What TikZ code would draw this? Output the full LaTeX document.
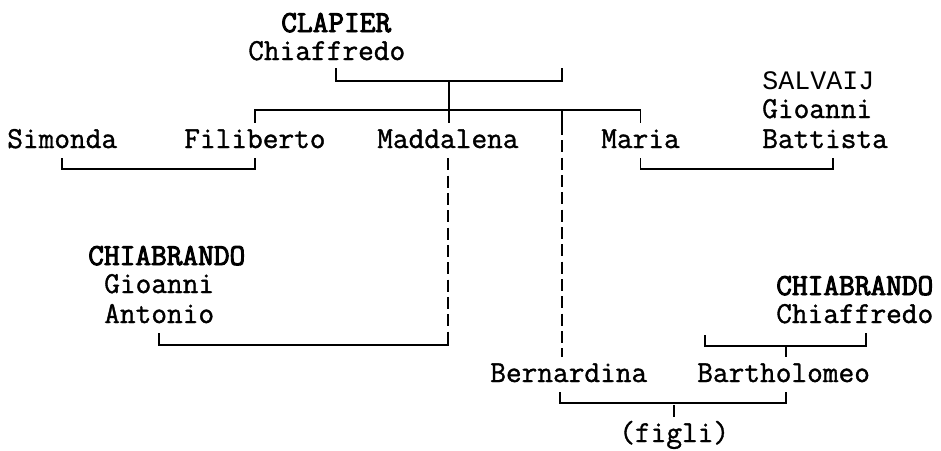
\documentclass[tikz,border=0pt]{standalone}
\usepackage{fontspec}
\newfontfamily\namefont{Latin Modern Mono}[FakeBold=1.2]
\newfontfamily\surfont{Latin Modern Mono}[FakeBold=3.2]
\newfontfamily\salvfont{Liberation Mono}
\usetikzlibrary{calc}
\tikzset{
  person/.style={inner sep=0pt, anchor=base west, text height=18.75pt, text depth=7.5pt,
    font=\fontsize{22.86}{29}\selectfont\namefont},
  surname/.style={person, font=\fontsize{22.86}{29}\selectfont\surfont},
  salv/.style={person, font=\fontsize{20}{29}\selectfont\salvfont},
  kin/.style={line width=1.3pt},
  desc/.style={kin, dash pattern=on 9pt off 4pt}
}
\begin{document}
\begin{tikzpicture}[x=0.75pt, y=-0.75pt]
  \useasboundingbox (0,0) rectangle (941,450);
  \node[surname] (clapS) at (281,32) {CLAPIER};
  \node[person] (clapC) at (248,60) {Chiaffredo};
  \node[person] (simonda) at (7,148) {Simonda};
  \node[person] (filib) at (184,148) {Filiberto};
  \node[person] (madd) at (377,148) {Maddalena};
  \node[person] (maria) at (601,148) {Maria};
  \node[salv] (salvS) at (762,89) {SALVAIJ};
  \node[person] (salvG) at (762,118) {Gioanni};
  \node[person] (salvB) at (762,148) {Battista};
  \node[surname] (chiaS) at (88,265) {CHIABRANDO};
  \node[person] (chiaG) at (104,293) {Gioanni};
  \node[person] (chiaA) at (104,323) {Antonio};
  \node[surname] (chibS) at (776,295) {CHIABRANDO};
  \node[person] (chibC) at (776,323) {Chiaffredo};
  \node[person] (bern) at (490,382) {Bernardina};
  \node[person] (barth) at (697,382) {Bartholomeo};
  \node[person] (figli) at (619,442) {(figli)};

  \coordinate (clapW) at (562,68);
  \coordinate (clapU) at (449,81);
  \coordinate (sibU) at (449,110);
  \coordinate (sibB) at (562,110);
  \coordinate (chibW) at (705,335);
  \coordinate (chibU) at (786,346);

  \draw[kin] ($(clapC.south)+(9,-2)$) |- (clapU) -| (clapW);
  \draw[kin] (clapU) -- (clapU |- madd.north);
  \draw[kin] (filib.north) |- (sibU) -| (maria.north);
  \draw[kin] (sibB) -- ++(0,13) coordinate (bernT);
  \draw[desc] (bernT) -- (bernT |- bern.north);
  \draw[kin] (simonda.south) -- ++(0,11) -| (filib.south);
  \draw[kin] (maria.south) -- ++(0,11) -| ($(salvB.south)+(8,0)$);
  \draw[desc] (madd.south) -- (madd.south |- chiaA.south);
  \draw[kin] (madd.south |- chiaA.south) -- ++(0,12) -| (chiaA.south);
  \draw[kin] (chibW) |- (chibU) -| ($(chibC.south)+(11,0)$);
  \draw[kin] (chibU) -- (chibU |- barth.north);
  \draw[kin] ($(bern.south)+(-9,0)$) -- ++(0,11) -| (chibU |- barth.south);
  \draw[kin] (figli.north) -- ++(0,-12);
\end{tikzpicture}
\end{document}
